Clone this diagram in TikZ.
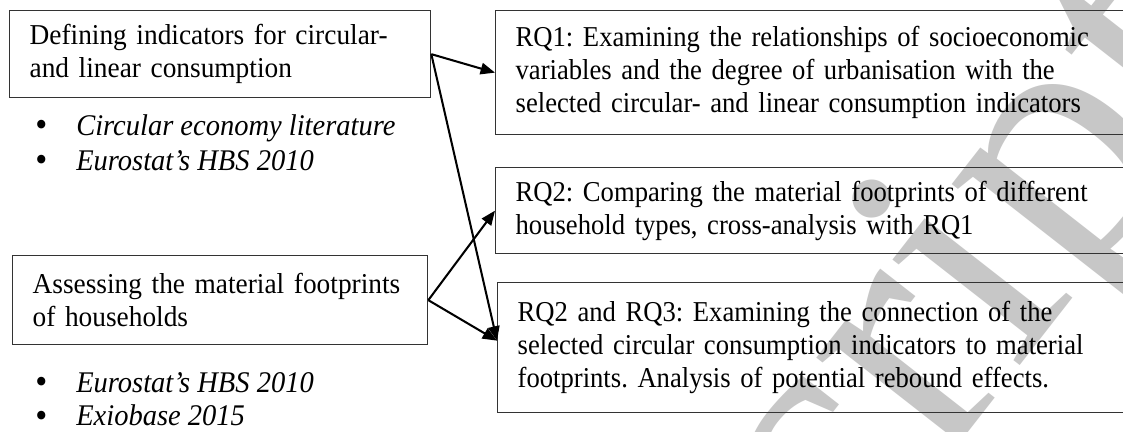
\documentclass[tikz,border=0pt]{standalone}
\usepackage{fontspec}
\setmainfont[FakeStretch=0.95]{Liberation Serif}
\newfontfamily\rqfont[FakeStretch=0.925]{Liberation Serif}
\newfontfamily\wmfont{Liberation Serif}
\usetikzlibrary{arrows.meta,calc}
\newcommand\pxu{0.4167pt}
\newcommand\bigbul{\makebox[17pt][l]{\raisebox{-0.6pt}{\upshape\fontsize{15}{15}\selectfont\textbullet}}}
\begin{document}
\frenchspacing
\begin{tikzpicture}[x=0.4167pt,y=-0.4167pt,
  boxbase/.style={draw=black!80, line width=0.55pt, rectangle, anchor=north west,
    inner xsep=20*\pxu, inner ysep=0pt, align=left,
    font=\fontsize{12}{13.75}\selectfont},
  rqbox/.style={boxbase, font=\rqfont\fontsize{12}{13.75}\selectfont},
  item/.style={anchor=west, inner sep=0pt, font=\fontsize{12.5}{14}\selectfont\itshape},
  arr/.style={line width=0.85pt, -{Triangle[length=6pt,width=4.8pt]}},
  wmark/.style={text=black!22, inner sep=0pt, font=\wmfont\fontsize{150}{150}\selectfont}]
\clip (0,0) rectangle (1123,432);
\fill[white] (0,0) rectangle (1123,432);
% watermark
\node[wmark, rotate=52] (wm) at (940,337) {script};
% left boxes
\node[boxbase, text width=381*\pxu, minimum height=87*\pxu] (a) at (9,10)
  {\mbox{Defining indicators for circular-}\\\mbox{and linear consumption}};
\node[boxbase, text width=375*\pxu, minimum height=89*\pxu] (b) at (12,255)
  {\mbox{Assessing the material footprints}\\\mbox{of households}};
% right boxes (right side runs off the page)
\node[rqbox, text width=700*\pxu, minimum height=124*\pxu] (rq1) at (495,10)
  {RQ1: Examining the relationships of socioeconomic\\variables and the degree of urbanisation with the\\selected circular- and linear consumption indicators};
\node[rqbox, text width=700*\pxu, minimum height=86*\pxu] (rq2) at (495,167)
  {RQ2: Comparing the material footprints of different\\household types, cross-analysis with RQ1};
\node[rqbox, text width=700*\pxu, minimum height=130*\pxu] (rq3) at (497,282)
  {RQ2 and RQ3: Examining the connection of the\\selected circular consumption indicators to material\\footprints. Analysis of potential rebound effects.};
% bullet lists
\node[item] (l1) at (35,128) {\bigbul Circular economy literature};
\node[item] (l2) at (35,161) {\bigbul Eurostat’s HBS 2010};
\node[item] (l3) at (35,383) {\bigbul Eurostat’s HBS 2010};
\node[item] (l4) at (35,416) {\bigbul Exiobase 2015};
% arrows
\coordinate (t3) at ($(rq3.west)+(0,-7)$);
\draw[arr] (a.east) -- (rq1.west);
\draw[arr] (a.east) -- (t3);
\draw[arr] (b.east) -- (rq2.west);
\draw[arr] (b.east) -- (t3);
\end{tikzpicture}
\end{document}
